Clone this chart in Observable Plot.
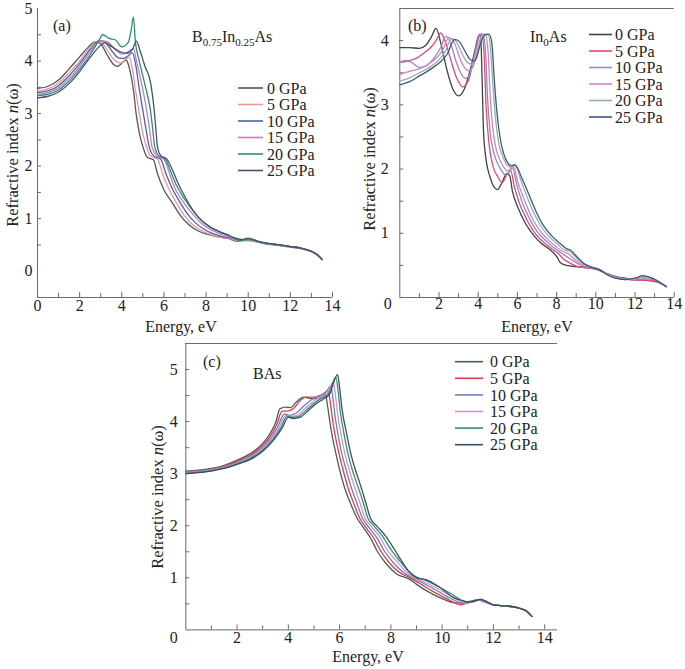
<!DOCTYPE html>
<html><head><meta charset="utf-8">
<script src="https://cdn.jsdelivr.net/npm/d3@7"></script>
<script src="https://cdn.jsdelivr.net/npm/@observablehq/plot@0.6"></script>
<style>
body{margin:0;background:#fff;}
#wrap{position:relative;width:685px;height:669px;overflow:hidden;background:#fff;}
#wrap svg{position:absolute;overflow:visible;}
</style></head><body><div id="wrap"></div>
<script>
const FONT = '"Liberation Serif","Times New Roman",serif';
const pressures = ["0 GPa","5 GPa","10 GPa","15 GPa","20 GPa","25 GPa"];
const xMajor = [0,2,4,6,8,10,12,14];
const xMinor = [1,3,5,7,9,11,13];

// ---------- Panel (a) B0.75In0.25As ----------
const aColors = ["#505858","#f0949c","#4a62aa","#c27ec6","#2f8f6c","#46536a"];
const aE = [
 [0,0.5,1.0,1.5,2.0,2.4,2.75,3.0,3.3,3.6,3.8,4.0,4.2,4.3,4.45,4.57,4.68,4.85,5.04,5.2,5.5,5.7,6.0,6.4,6.8,7.2,7.6,8.0,8.5,9.0,9.5,9.9,10.5,11.0,11.5,12.0,12.5,13.0,13.3,13.5],
 [0,0.5,1.0,1.5,2.0,2.5,2.85,3.1,3.4,3.7,3.95,4.15,4.35,4.5,4.65,4.81,4.97,5.17,5.35,5.7,5.95,6.25,6.6,6.95,7.35,7.75,8.15,8.6,9.1,9.6,10.0,10.5,11.0,11.5,12.0,12.5,13.0,13.3,13.5],
 [0,0.5,1.0,1.5,2.0,2.5,2.95,3.25,3.55,3.85,4.1,4.3,4.5,4.65,4.82,5.0,5.15,5.3,5.5,5.85,6.1,6.4,6.75,7.1,7.5,7.9,8.3,8.7,9.2,9.7,10.0,10.5,11.0,11.5,12.0,12.5,13.0,13.3,13.5],
 [0,0.5,1.0,1.5,2.0,2.5,3.05,3.35,3.7,4.0,4.2,4.4,4.55,4.7,4.95,5.18,5.32,5.43,5.65,6.0,6.25,6.5,6.9,7.3,7.7,8.1,8.5,8.9,9.3,9.7,10.0,10.5,11.0,11.5,12.0,12.5,13.0,13.3,13.5],
 [0,0.5,1.0,1.5,2.0,2.5,2.9,3.1,3.4,3.7,4.0,4.3,4.45,4.55,4.65,4.8,5.1,5.36,5.47,5.56,5.75,6.05,6.3,6.6,7.0,7.4,7.8,8.2,8.6,9.0,9.3,9.6,10.0,10.5,11.0,11.5,12.0,12.5,13.0,13.3,13.5],
 [0,0.5,1.0,1.5,2.0,2.5,3.0,3.2,3.5,3.9,4.2,4.5,4.7,4.85,5.1,5.36,5.54,5.62,5.69,5.85,6.15,6.4,6.7,7.05,7.4,7.8,8.2,8.6,9.0,9.4,9.7,10.0,10.5,11.0,11.5,12.0,12.5,13.0,13.3,13.5]
];
const aN = [
 [3.48,3.52,3.64,3.85,4.08,4.26,4.37,4.33,4.12,3.94,3.9,3.96,4.02,3.95,3.7,3.4,3.0,2.6,2.32,2.17,2.12,1.85,1.55,1.3,1.05,0.88,0.77,0.71,0.66,0.63,0.57,0.6,0.55,0.51,0.49,0.46,0.43,0.37,0.3,0.22],
 [3.43,3.47,3.58,3.78,4.0,4.27,4.38,4.33,4.15,4.0,3.96,4.02,4.08,3.85,3.45,3.06,2.68,2.37,2.2,2.13,1.83,1.55,1.3,1.07,0.89,0.78,0.71,0.65,0.62,0.58,0.58,0.55,0.52,0.49,0.46,0.43,0.37,0.3,0.23],
 [3.40,3.43,3.53,3.72,3.95,4.22,4.39,4.34,4.18,4.06,4.05,4.1,4.16,3.95,3.5,3.06,2.7,2.37,2.2,2.13,1.85,1.57,1.32,1.1,0.92,0.8,0.72,0.67,0.63,0.6,0.61,0.56,0.52,0.5,0.47,0.44,0.38,0.31,0.23],
 [3.37,3.4,3.49,3.67,3.9,4.17,4.39,4.36,4.22,4.13,4.15,4.2,4.24,4.0,3.55,3.06,2.7,2.37,2.2,2.13,1.88,1.6,1.33,1.12,0.94,0.82,0.74,0.68,0.63,0.6,0.6,0.56,0.52,0.5,0.47,0.44,0.38,0.31,0.23],
 [3.34,3.37,3.45,3.62,3.85,4.12,4.38,4.5,4.43,4.4,4.27,4.35,4.6,4.84,4.35,4.05,3.55,3.06,2.7,2.37,2.2,2.14,1.92,1.63,1.36,1.14,0.96,0.84,0.76,0.7,0.64,0.58,0.6,0.56,0.52,0.5,0.47,0.44,0.38,0.31,0.23],
 [3.30,3.33,3.41,3.57,3.8,4.07,4.3,4.35,4.28,4.18,4.15,4.22,4.38,4.22,3.9,3.6,3.06,2.7,2.37,2.2,2.13,1.93,1.65,1.38,1.15,0.96,0.84,0.76,0.69,0.63,0.6,0.63,0.57,0.53,0.5,0.47,0.44,0.38,0.31,0.22]
];

// ---------- Panel (b) In0As ----------
const bColors = ["#3c4444","#e8447c","#8e8fbc","#d283cc","#94b2a6","#3e5878"];
const bE = [
 [0,0.5,1.0,1.3,1.6,1.85,2.1,2.4,2.7,3.0,3.3,3.6,3.85,4.0,4.12,4.2,4.27,4.4,4.6,4.97,5.2,5.45,5.6,5.75,6.0,6.4,6.8,7.2,7.6,8.0,8.2,8.5,9.0,9.5,10.0,10.5,11.0,11.5,12.0,12.5,13.0,13.3,13.6],
 [0,0.4,0.8,1.2,1.6,1.85,2.08,2.3,2.6,2.9,3.2,3.5,3.75,3.9,4.05,4.2,4.3,4.4,4.55,4.75,5.0,5.22,5.45,5.65,5.85,6.1,6.5,6.9,7.3,7.7,8.1,8.35,8.6,9.0,9.5,10.0,10.5,11.0,11.5,12.0,12.5,13.0,13.3,13.6],
 [0,0.3,0.6,1.0,1.4,1.8,2.1,2.35,2.6,2.9,3.1,3.36,3.6,3.8,3.95,4.1,4.25,4.38,4.48,4.6,4.8,5.0,5.2,5.4,5.6,5.75,5.95,6.2,6.6,7.0,7.4,7.8,8.2,8.5,8.8,9.2,9.6,10.0,10.5,11.0,11.5,12.0,12.5,13.0,13.3,13.6],
 [0,0.5,1.0,1.5,1.9,2.2,2.5,2.8,3.1,3.3,3.53,3.75,3.9,4.05,4.2,4.35,4.5,4.6,4.72,4.9,5.1,5.3,5.5,5.7,5.8,6.0,6.3,6.7,7.1,7.5,7.9,8.3,8.6,8.9,9.3,9.7,10.1,10.5,11.0,11.5,12.0,12.4,12.8,13.2,13.6],
 [0,0.5,1.0,1.5,2.0,2.3,2.65,2.95,3.2,3.45,3.7,3.85,4.0,4.15,4.3,4.5,4.62,4.75,4.88,5.05,5.25,5.45,5.65,5.82,6.0,6.15,6.45,6.85,7.25,7.65,8.05,8.4,8.65,9.0,9.4,9.8,10.2,10.6,11.0,11.5,12.0,12.4,12.8,13.2,13.6],
 [0,0.5,1.0,1.5,2.0,2.4,2.8,3.05,3.3,3.55,3.78,3.9,4.05,4.2,4.35,4.55,4.7,4.82,4.95,5.12,5.3,5.5,5.7,5.85,6.0,6.2,6.55,6.95,7.35,7.75,8.15,8.5,8.7,9.05,9.4,9.8,10.2,10.6,11.0,11.5,12.0,12.4,12.8,13.2,13.6]
];
const bN = [
 [3.89,3.89,3.88,3.92,4.05,4.19,3.95,3.55,3.25,3.14,3.25,3.55,3.87,4.06,4.1,3.4,2.6,2.15,1.88,1.68,1.78,1.93,1.9,1.65,1.42,1.16,0.98,0.85,0.76,0.64,0.54,0.5,0.48,0.47,0.44,0.38,0.33,0.3,0.28,0.27,0.25,0.22,0.17],
 [3.66,3.68,3.72,3.8,3.9,4.0,4.12,4.0,3.7,3.42,3.28,3.38,3.7,3.92,4.09,4.1,3.8,3.0,2.4,2.05,1.88,1.79,1.9,1.98,1.72,1.47,1.2,1.0,0.87,0.77,0.68,0.6,0.55,0.49,0.46,0.44,0.38,0.32,0.29,0.27,0.27,0.26,0.22,0.17],
 [3.66,3.69,3.66,3.58,3.62,3.75,3.9,4.07,3.95,3.65,3.5,3.41,3.5,3.75,3.95,4.09,4.1,3.8,3.1,2.6,2.25,2.08,1.97,1.9,1.96,2.02,1.78,1.52,1.24,1.03,0.9,0.79,0.7,0.64,0.58,0.51,0.47,0.45,0.38,0.32,0.29,0.28,0.29,0.27,0.22,0.17],
 [3.47,3.52,3.56,3.64,3.74,3.86,4.05,3.95,3.7,3.58,3.53,3.6,3.78,3.97,4.09,4.1,3.85,3.2,2.7,2.33,2.15,2.03,1.97,2.02,2.04,1.82,1.56,1.27,1.06,0.92,0.81,0.72,0.68,0.6,0.52,0.48,0.45,0.37,0.31,0.29,0.29,0.31,0.3,0.25,0.17],
 [3.37,3.42,3.5,3.58,3.7,3.82,4.03,3.95,3.78,3.66,3.63,3.7,3.85,4.0,4.09,4.1,3.9,3.3,2.8,2.4,2.2,2.07,2.03,2.06,2.0,1.85,1.6,1.31,1.09,0.94,0.83,0.74,0.72,0.62,0.52,0.47,0.44,0.36,0.3,0.28,0.29,0.33,0.31,0.25,0.17],
 [3.31,3.36,3.45,3.54,3.65,3.78,4.02,3.98,3.85,3.72,3.68,3.72,3.88,4.02,4.09,4.1,3.95,3.4,2.9,2.48,2.24,2.1,2.05,2.07,2.02,1.88,1.63,1.34,1.11,0.96,0.85,0.76,0.74,0.63,0.53,0.47,0.43,0.35,0.3,0.28,0.3,0.34,0.31,0.25,0.17]
];

// ---------- Panel (c) BAs ----------
const cColors = ["#4a5e5c","#e8384a","#6f7fb8","#d492d2","#2f9272","#3f4f5e"];
const cE = [
 [0,0.5,1.0,1.5,2.0,2.5,3.0,3.3,3.5,3.68,3.9,4.1,4.3,4.6,4.9,5.2,5.45,5.53,5.62,5.72,5.84,6.0,6.2,6.45,6.68,6.95,7.2,7.46,7.8,8.24,8.7,9.1,9.5,10.0,10.5,10.8,11.1,11.4,11.7,12.0,12.5,13.0,13.3,13.5],
 [0,0.5,1.0,1.5,2.0,2.5,3.0,3.3,3.55,3.76,3.95,4.2,4.45,4.7,5.0,5.3,5.55,5.63,5.72,5.84,5.96,6.12,6.32,6.56,6.78,7.05,7.32,7.6,7.95,8.35,8.75,9.2,9.6,10.1,10.45,10.7,11.0,11.4,11.7,12.0,12.5,13.0,13.3,13.5],
 [0,0.5,1.0,1.5,2.0,2.5,3.0,3.35,3.6,3.85,4.05,4.3,4.6,4.9,5.2,5.45,5.65,5.74,5.83,5.95,6.07,6.24,6.44,6.67,6.89,7.16,7.44,7.74,8.08,8.45,8.8,9.25,9.7,10.2,10.55,10.8,11.1,11.45,11.7,12.0,12.5,13.0,13.3,13.5],
 [0,0.5,1.0,1.5,2.0,2.5,3.0,3.4,3.65,3.9,4.1,4.35,4.65,4.95,5.25,5.5,5.75,5.84,5.93,6.06,6.19,6.36,6.56,6.78,6.99,7.26,7.56,7.88,8.22,8.55,8.85,9.3,9.8,10.3,10.65,10.9,11.2,11.5,11.7,12.0,12.5,13.0,13.3,13.5],
 [0,0.5,1.0,1.5,2.0,2.5,3.0,3.4,3.7,3.95,4.15,4.4,4.7,5.0,5.3,5.55,5.85,5.94,6.03,6.17,6.31,6.48,6.68,6.9,7.1,7.37,7.67,8.03,8.35,8.65,8.95,9.4,9.9,10.4,10.75,11.0,11.25,11.5,11.75,12.0,12.5,13.0,13.3,13.5],
 [0,0.5,1.0,1.5,2.0,2.5,3.0,3.4,3.75,4.0,4.2,4.45,4.75,5.05,5.35,5.6,5.92,6.0,6.1,6.27,6.42,6.6,6.8,7.0,7.2,7.48,7.8,8.17,8.45,8.7,9.0,9.4,9.9,10.45,10.8,11.05,11.3,11.5,11.75,12.0,12.5,13.0,13.3,13.5]
];
const cN = [
 [3.05,3.07,3.1,3.16,3.26,3.38,3.58,3.78,3.98,4.25,4.28,4.27,4.37,4.47,4.44,4.45,4.52,4.3,4.0,3.7,3.42,3.08,2.72,2.4,2.15,1.95,1.77,1.52,1.28,1.07,0.98,0.84,0.72,0.6,0.52,0.52,0.55,0.58,0.54,0.48,0.46,0.42,0.36,0.26],
 [3.04,3.06,3.09,3.15,3.24,3.35,3.54,3.72,3.95,4.2,4.2,4.25,4.4,4.47,4.47,4.5,4.6,4.4,4.05,3.7,3.42,3.1,2.74,2.42,2.15,1.95,1.77,1.52,1.28,1.1,1.0,0.87,0.75,0.62,0.53,0.48,0.52,0.57,0.53,0.48,0.46,0.42,0.36,0.26],
 [3.03,3.05,3.08,3.13,3.22,3.33,3.5,3.7,3.92,4.15,4.12,4.16,4.3,4.42,4.5,4.55,4.68,4.45,4.08,3.72,3.42,3.1,2.76,2.44,2.15,1.96,1.78,1.52,1.3,1.12,1.01,0.9,0.78,0.64,0.55,0.5,0.53,0.57,0.53,0.48,0.46,0.42,0.36,0.26],
 [3.02,3.04,3.07,3.12,3.2,3.31,3.47,3.7,3.9,4.12,4.1,4.12,4.25,4.38,4.47,4.53,4.76,4.5,4.12,3.74,3.42,3.1,2.78,2.46,2.15,1.97,1.79,1.52,1.32,1.14,1.02,0.92,0.8,0.66,0.56,0.52,0.54,0.58,0.54,0.48,0.46,0.42,0.36,0.26],
 [3.01,3.03,3.06,3.11,3.19,3.29,3.45,3.66,3.88,4.1,4.08,4.1,4.22,4.35,4.45,4.52,4.85,4.6,4.18,3.77,3.42,3.1,2.8,2.48,2.15,1.98,1.8,1.52,1.32,1.15,1.03,0.94,0.82,0.68,0.57,0.53,0.55,0.58,0.54,0.48,0.46,0.42,0.36,0.26],
 [3.0,3.02,3.05,3.1,3.18,3.27,3.43,3.63,3.87,4.08,4.06,4.08,4.2,4.33,4.43,4.52,4.9,4.65,4.22,3.78,3.42,3.1,2.8,2.48,2.15,1.98,1.8,1.52,1.3,1.12,1.0,0.96,0.82,0.62,0.56,0.54,0.56,0.59,0.54,0.48,0.46,0.42,0.36,0.26]
];

const AXIS = "#6a6a6a";
const TXT = "#222";

function panel(cfg){
  const rows = [];
  cfg.E.forEach((es,i)=>es.forEach((e,j)=>rows.push({p:pressures[i], E:e, n:cfg.N[i][j]})));
  const fw = cfg.width - cfg.ml - cfg.mr, fh = cfg.height - cfg.mt - cfg.mb;
  const marks = [
    Plot.ruleX([cfg.xDomain[0]], {stroke: AXIS}),
    Plot.ruleY([cfg.yDomain[0]], {stroke: AXIS}),
  ];
  if (cfg.topLine) marks.push(Plot.ruleY([cfg.yDomain[1]], {stroke: AXIS}));
  marks.push(
    Plot.ruleX(xMinor, {x: d=>d, insetTop: fh-4, stroke: AXIS}),
    Plot.ruleX(xMajor.slice(1), {x: d=>d, insetTop: fh-5, stroke: AXIS}),
    Plot.ruleY(cfg.yTicks, {y: d=>d, insetRight: fw-4, stroke: AXIS}),
    Plot.line(rows, {x:"E", y:"n", z:"p", stroke:"p", strokeWidth:1.3, curve:"monotone-x"}),
    Plot.text(cfg.xLabels, {x:d=>d, frameAnchor:"bottom", dy:cfg.xdy, text:d=>String(d), fontSize:16, fill:TXT}),
    Plot.text(cfg.yLabels, {y:d=>d, frameAnchor:"left", dx:cfg.ydx, textAnchor:"end", text:d=>String(d), fontSize:16, fill:TXT})
  );
  if (cfg.cornerZero) marks.push(Plot.text([0], {x:d=>d, frameAnchor:"bottom", dx:-12, dy:cfg.xdy, text:d=>String(d), fontSize:16, fill:TXT}));
  const svg = Plot.plot({
    width: cfg.width, height: cfg.height,
    marginLeft: cfg.ml, marginRight: cfg.mr, marginTop: cfg.mt, marginBottom: cfg.mb,
    x: {domain: cfg.xDomain, axis: null},
    y: {domain: cfg.yDomain, axis: null},
    color: {domain: pressures, range: cfg.colors},
    style: {fontFamily: FONT, background: "transparent", overflow: "visible"},
    marks
  });
  svg.style.left = cfg.left + "px";
  svg.style.top = cfg.top + "px";
  const s = d3.select(svg);
  // legend
  const lg = s.append("g").attr("text-anchor","start");
  pressures.forEach((p,i)=>{
    const y = cfg.leg.y + i*cfg.leg.dy;
    lg.append("line").attr("x1",cfg.leg.x1).attr("x2",cfg.leg.x2).attr("y1",y).attr("y2",y)
      .attr("stroke",cfg.colors[i]).attr("stroke-width",1.6);
    lg.append("text").attr("x",cfg.leg.tx).attr("y",y).attr("dy","0.35em")
      .attr("font-size",16).attr("font-family",FONT).attr("fill",TXT).text(p);
  });
  // panel tag
  s.append("text").attr("text-anchor","start").attr("x",cfg.tag.x).attr("y",cfg.tag.y).attr("font-size",16)
    .attr("font-family",FONT).attr("fill",TXT).text(cfg.tag.t);
  // compound
  const ct = s.append("text").attr("text-anchor","start").attr("x",cfg.comp.x).attr("y",cfg.comp.y).attr("font-size",16)
    .attr("font-family",FONT).attr("fill",TXT);
  let prevSub = false;
  cfg.comp.parts.forEach(([t,sub])=>{
    const ts = ct.append("tspan").text(t);
    if (sub) { ts.attr("font-size",11).attr("dy",4); }
    else if (prevSub) { ts.attr("dy",-4); }
    prevSub = sub;
  });
  // y title
  const yt = s.append("text").attr("transform",`translate(${cfg.ytitle.x},${cfg.ytitle.y}) rotate(-90)`)
    .attr("text-anchor","middle").attr("dy","0.35em").attr("font-size",16.5).attr("font-family",FONT).attr("fill",TXT);
  yt.append("tspan").text("Refractive index ");
  yt.append("tspan").attr("font-style","italic").text("n");
  yt.append("tspan").text("(ω)");
  // x title
  s.append("text").attr("x",cfg.xtitle.x).attr("y",cfg.xtitle.y).attr("text-anchor","middle")
    .attr("font-size",16).attr("font-family",FONT).attr("fill",TXT).text("Energy, eV");
  document.getElementById("wrap").appendChild(svg);
}

panel({
  E:aE, N:aN, colors:aColors, left:0, top:0, width:340, height:340,
  ml:37, mr:8, mt:8, mb:43, xDomain:[0,14], yDomain:[-0.5,5], topLine:false,
  yTicks:[0.5,1,1.5,2,2.5,3,3.5,4,4.5],
  xLabels:[0,2,4,6,8,10,12,14], yLabels:[0,1,2,3,4,5], xdy:13, ydx:-5, cornerZero:false,
  leg:{x1:238,x2:263,tx:267,y:88,dy:16.5},
  tag:{x:53,y:31,t:"(a)"},
  comp:{x:192,y:42,parts:[["B",false],["0.75",true],["In",false],["0.25",true],["As",false]]},
  ytitle:{x:12,y:155}, xtitle:{x:181,y:332}
});
panel({
  E:bE, N:bN, colors:bColors, left:340, top:0, width:345, height:340,
  ml:59.3, mr:11.3, mt:8, mb:43, xDomain:[0,14], yDomain:[0,4.5], topLine:true,
  yTicks:[0.5,1,1.5,2,2.5,3,3.5,4],
  xLabels:[2,4,6,8,10,12,14], yLabels:[1,2,3,4], xdy:11, ydx:-11, cornerZero:true,
  leg:{x1:249,x2:272,tx:275,y:34.5,dy:16.5},
  tag:{x:68,y:31,t:"(b)"},
  comp:{x:190,y:42,parts:[["In",false],["0",true],["As",false]]},
  ytitle:{x:29,y:159}, xtitle:{x:197,y:332}
});
panel({
  E:cE, N:cN, colors:cColors, left:140, top:330, width:420, height:339,
  ml:45.3, mr:3, mt:13, mb:39.6, xDomain:[0,14.5], yDomain:[0,5.5], topLine:true,
  yTicks:[0.5,1,1.5,2,2.5,3,3.5,4,4.5,5],
  xLabels:[2,4,6,8,10,12,14], yLabels:[1,2,3,4,5], xdy:13.5, ydx:-8, cornerZero:true,
  leg:{x1:315,x2:343,tx:350,y:31.7,dy:16.6},
  tag:{x:63,y:37,t:"(c)"},
  comp:{x:113,y:49,parts:[["BAs",false]]},
  ytitle:{x:17,y:167}, xtitle:{x:228,y:332}
});
</script></body></html>
